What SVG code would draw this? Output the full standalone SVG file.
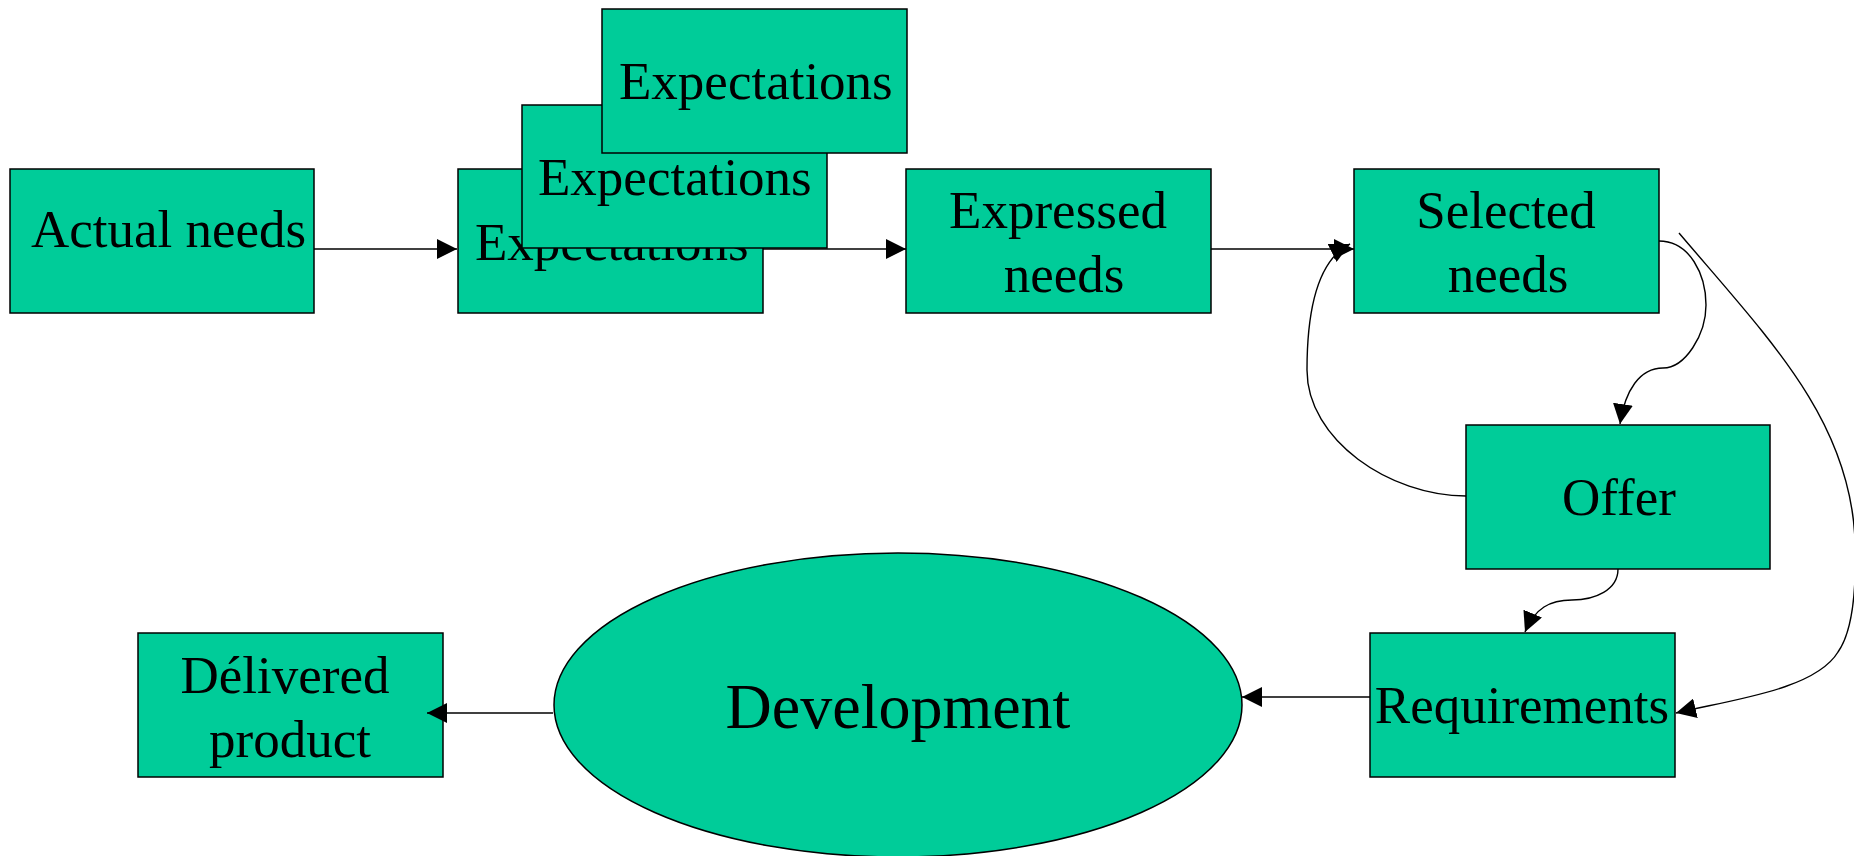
<svg xmlns="http://www.w3.org/2000/svg" width="1854" height="856" viewBox="0 0 1854 856">
<style>
.box{fill:#00CC99;stroke:#000;stroke-width:1.5}
.t{font-family:"Liberation Serif","Times New Roman",serif;font-size:53px;fill:#000}
.c{text-anchor:middle}
.con{fill:none;stroke:#000;stroke-width:1.4}
</style>
<defs>
<marker id="ah" markerUnits="userSpaceOnUse" viewBox="0 0 20 20" markerWidth="20" markerHeight="20" refX="20" refY="10" orient="auto">
<path d="M0,0 L20,10 L0,20 z" fill="#000"/>
</marker>
</defs>
<rect width="1854" height="856" fill="#fff"/>
<g id="actual-needs">
<rect class="box" x="10" y="169" width="304" height="144"/>
<text class="t" x="31" y="247">Actual needs</text>
</g>
<g id="expectations-1">
<rect class="box" x="458" y="169" width="305" height="144"/>
<text class="t" x="475" y="260">Expectations</text>
</g>
<g id="expectations-2">
<rect class="box" x="522" y="105" width="305" height="143"/>
<text class="t" x="538" y="195">Expectations</text>
</g>
<g id="expectations-3">
<rect class="box" x="602" y="9" width="305" height="144"/>
<text class="t" x="619" y="99">Expectations</text>
</g>
<g id="expressed-needs">
<rect class="box" x="906" y="169" width="305" height="144"/>
<text class="t c" x="1058" y="228">Expressed</text>
<text class="t c" x="1064" y="292">needs</text>
</g>
<g id="selected-needs">
<rect class="box" x="1354" y="169" width="305" height="144"/>
<text class="t c" x="1506" y="228">Selected</text>
<text class="t c" x="1508" y="292">needs</text>
</g>
<g id="offer">
<rect class="box" x="1466" y="425" width="304" height="144"/>
<text class="t c" x="1619" y="515">Offer</text>
</g>
<g id="requirements">
<rect class="box" x="1370" y="633" width="305" height="144"/>
<text class="t c" x="1522" y="723">Requirements</text>
</g>
<g id="development">
<ellipse cx="898" cy="705" rx="344" ry="152" fill="#00CC99" stroke="#000" stroke-width="1.5"/>
<text class="t c" x="898" y="728" style="font-size:64px">Development</text>
</g>
<g id="delivered-product">
<rect class="box" x="138" y="633" width="305" height="144"/>
<text class="t c" x="285" y="693">Délivered</text>
<text class="t c" x="290" y="757">product</text>
</g>
<g id="connectors">
<path class="con" d="M314,249 L457,249" marker-end="url(#ah)"/>
<path class="con" d="M763,249 L906,249" marker-end="url(#ah)"/>
<path class="con" d="M1211,249 L1354,249" marker-end="url(#ah)"/>
<path class="con" d="M1466,496 C1390,496 1307,440 1307,370 C1307,300 1322,258 1350,244" marker-end="url(#ah)"/>
<path class="con" d="M1659,241 C1690,241 1706,275 1706,305 C1706,335 1685,368 1663,368 C1640,368 1625,390 1620,424" marker-end="url(#ah)"/>
<path class="con" d="M1679,233 C1770,340 1850,420 1855,540 C1857,600 1850,635 1838,652 C1815,690 1730,700 1676,713" marker-end="url(#ah)"/>
<path class="con" d="M1618,569 C1618,590 1595,600 1572,600 C1550,600 1535,608 1525,632" marker-end="url(#ah)"/>
<path class="con" d="M1370,697 L1242,697" marker-end="url(#ah)"/>
<path class="con" d="M553,713 L427,713" marker-end="url(#ah)"/>
</g>
</svg>
